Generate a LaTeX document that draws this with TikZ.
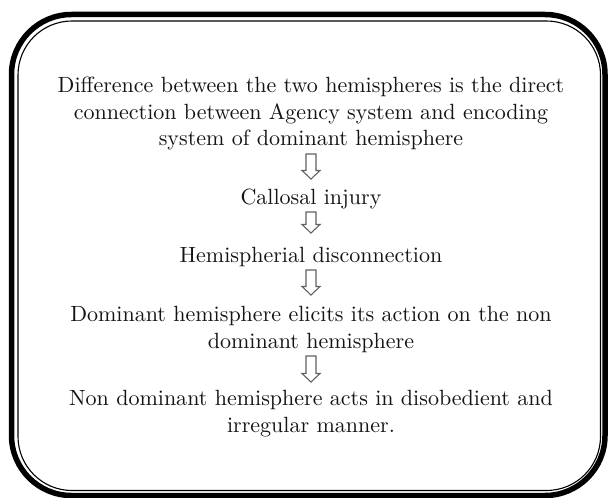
\documentclass[tikz,border=0pt]{standalone}
\usepackage{fontspec}
\setmainfont{lmroman10-regular.otf}
\usetikzlibrary{calc}
\begin{document}
\begin{tikzpicture}[x=1bp,y=-1bp,
  txt/.style={font=\fontsize{22.1}{27}\selectfont, align=center, anchor=base, inner sep=0pt, text=black!92},
  hollow/.style={draw=black!62, line width=1.1bp, to path={let \p1=(\tikztostart), \p2=(\tikztotarget) in
    (\x1-5bp,\y1) -- (\x1-5bp,\y2+8.5bp) -- (\x1-9bp,\y2+8.5bp) -- (\x1,\y2) -- (\x1+9bp,\y2+8.5bp) -- (\x1+5bp,\y2+8.5bp) -- (\x1+5bp,\y1) -- cycle}},
  outerframe/.style={draw=black, line width=5.5bp, rounded corners=60bp},
  innerframe/.style={draw=black, line width=1.1bp, rounded corners=54bp}]
\useasboundingbox (0,0) rectangle (608,498);
\draw[outerframe] (11.5,14.5) rectangle (605,495.5);
\draw[innerframe] (18,21) rectangle (600.5,490.5);

\node[txt] (t1) at (311,146) {Difference between the two hemispheres is the direct\\connection between Agency system and encoding\\system of dominant hemisphere};
\node[txt] (t2) at (311,205) {Callosal injury};
\node[txt] (t3) at (311,262) {Hemispherial disconnection};
\node[txt] (t4) at (311,348) {Dominant hemisphere elicits its action on the non\\dominant hemisphere};
\node[txt] (t5) at (311,432) {Non dominant hemisphere acts in disobedient and\\irregular manner.};

\coordinate (a1s) at (311,154); \coordinate (a1e) at (311,179);
\coordinate (a2s) at (311,212); \coordinate (a2e) at (311,233);
\coordinate (a3s) at (311,270); \coordinate (a3e) at (311,295);
\coordinate (a4s) at (311,356); \coordinate (a4e) at (311,382);
\draw[hollow] (a1s) to (a1e);
\draw[hollow] (a2s) to (a2e);
\draw[hollow] (a3s) to (a3e);
\draw[hollow] (a4s) to (a4e);
\end{tikzpicture}
\end{document}
